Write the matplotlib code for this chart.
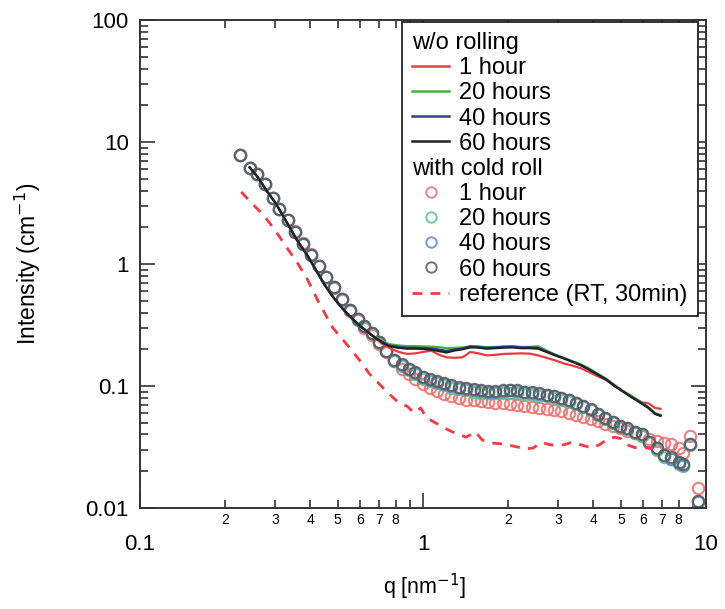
import matplotlib
matplotlib.use("Agg")
import matplotlib.pyplot as plt
from matplotlib.lines import Line2D
from matplotlib import ticker

plt.rcParams['font.family'] = ['Liberation Sans', 'DejaVu Sans']

# ---------------- data ----------------
# cold-rolled samples (circles)
q_circ = [0.226, 0.244, 0.259, 0.277, 0.295, 0.311, 0.333, 0.354, 0.378, 0.402,
          0.429, 0.453, 0.485, 0.517, 0.552, 0.587, 0.621, 0.66, 0.70, 0.74,
          0.79, 0.84, 0.89, 0.94, 1.0, 1.06, 1.12, 1.19, 1.26, 1.34,
          1.42, 1.51, 1.60, 1.70, 1.80, 1.91, 2.03, 2.15, 2.28, 2.42,
          2.57, 2.73, 2.90, 3.08, 3.27, 3.47, 3.68, 3.91, 4.15, 4.40,
          4.67, 4.96, 5.27, 5.60, 5.94, 6.30, 6.69, 7.10, 7.54, 8.0,
          8.3, 8.8, 9.38]

roll_1h = [7.9, 6.1, 5.5, 4.5, 3.45, 2.8, 2.3, 1.85, 1.49, 1.2,
           0.96, 0.78, 0.64, 0.51, 0.41, 0.35, 0.30, 0.26, 0.22, 0.19,
           0.16, 0.138, 0.125, 0.113, 0.103, 0.096, 0.091, 0.086, 0.082, 0.079,
           0.077, 0.076, 0.075, 0.074, 0.073, 0.0725, 0.071, 0.070, 0.069, 0.067,
           0.066, 0.065, 0.064, 0.062, 0.060, 0.058, 0.056, 0.054, 0.052, 0.049,
           0.047, 0.045, 0.043, 0.041, 0.039, 0.037, 0.0355, 0.034, 0.0335, 0.031,
           0.028, 0.039, 0.0145]

roll_20h = [7.9, 6.1, 5.5, 4.5, 3.45, 2.8, 2.28, 1.83, 1.47, 1.18,
            0.955, 0.78, 0.645, 0.52, 0.416, 0.355, 0.31, 0.27, 0.228, 0.193,
            0.16, 0.146, 0.134, 0.125, 0.115, 0.109, 0.105, 0.101, 0.097, 0.094,
            0.092, 0.090, 0.088, 0.087, 0.087, 0.087, 0.088, 0.087, 0.086, 0.085,
            0.083, 0.082, 0.080, 0.077, 0.074, 0.071, 0.067, 0.063, 0.058, 0.054,
            0.050, 0.046, 0.044, 0.041, 0.039, 0.034, 0.030, 0.026, 0.025, 0.023,
            0.022, 0.033, 0.0115]

roll_40h = [7.9, 6.1, 5.5, 4.5, 3.45, 2.8, 2.28, 1.83, 1.47, 1.18,
            0.955, 0.78, 0.645, 0.52, 0.416, 0.355, 0.31, 0.27, 0.23, 0.195,
            0.162, 0.149, 0.137, 0.128, 0.118, 0.112, 0.108, 0.104, 0.100, 0.097,
            0.095, 0.093, 0.091, 0.090, 0.090, 0.091, 0.092, 0.091, 0.089, 0.088,
            0.086, 0.084, 0.082, 0.079, 0.076, 0.072, 0.068, 0.064, 0.059, 0.055,
            0.051, 0.047, 0.045, 0.042, 0.040, 0.035, 0.031, 0.027, 0.025, 0.0235,
            0.0225, 0.0335, 0.0112]

roll_60h = [7.9, 6.1, 5.5, 4.5, 3.45, 2.8, 2.28, 1.83, 1.47, 1.18,
            0.955, 0.78, 0.645, 0.52, 0.416, 0.355, 0.31, 0.27, 0.23, 0.195,
            0.163, 0.150, 0.138, 0.129, 0.119, 0.113, 0.109, 0.105, 0.101, 0.098,
            0.096, 0.094, 0.092, 0.0915, 0.0915, 0.092, 0.093, 0.092, 0.090, 0.089,
            0.087, 0.085, 0.083, 0.080, 0.077, 0.073, 0.069, 0.065, 0.059, 0.055,
            0.051, 0.047, 0.045, 0.042, 0.040, 0.035, 0.031, 0.027, 0.026, 0.024,
            0.023, 0.0335, 0.0115]

# without rolling (lines)
q_line = [0.244, 0.26, 0.28, 0.303, 0.33, 0.36, 0.39, 0.42, 0.45, 0.48,
          0.52, 0.56, 0.60, 0.64, 0.68, 0.72, 0.76, 0.82, 0.88, 0.94,
          1.0, 1.07, 1.14, 1.21, 1.29, 1.38, 1.47, 1.57, 1.68, 1.80,
          1.93, 2.07, 2.22, 2.38, 2.55, 2.73, 2.93, 3.14, 3.36, 3.60,
          3.86, 4.14, 4.43, 4.75, 5.09, 5.45, 5.84, 6.26, 6.60, 6.90]

norm_1h = [6.2, 5.2, 4.0, 3.1, 2.2, 1.55, 1.18, 0.88, 0.67, 0.54,
           0.43, 0.36, 0.31, 0.275, 0.245, 0.22, 0.205, 0.19, 0.183, 0.185,
           0.19, 0.195, 0.18, 0.172, 0.170, 0.172, 0.19, 0.185, 0.178, 0.180,
           0.183, 0.184, 0.185, 0.184, 0.178, 0.170, 0.162, 0.153, 0.147, 0.140,
           0.130, 0.120, 0.112, 0.100, 0.090, 0.081, 0.074, 0.072, 0.066, 0.065]

norm_20h = [6.2, 5.2, 4.0, 3.1, 2.2, 1.55, 1.18, 0.88, 0.67, 0.54,
            0.43, 0.36, 0.31, 0.275, 0.25, 0.232, 0.22, 0.215, 0.212, 0.212,
            0.211, 0.21, 0.208, 0.204, 0.205, 0.207, 0.212, 0.211, 0.208, 0.209,
            0.211, 0.212, 0.209, 0.209, 0.212, 0.195, 0.181, 0.170, 0.160, 0.151,
            0.139, 0.126, 0.115, 0.102, 0.091, 0.083, 0.075, 0.067, 0.060, 0.058]

norm_40h = [6.2, 5.2, 4.0, 3.1, 2.2, 1.55, 1.18, 0.88, 0.67, 0.54,
            0.43, 0.36, 0.31, 0.275, 0.248, 0.228, 0.215, 0.209, 0.206, 0.206,
            0.205, 0.203, 0.199, 0.194, 0.199, 0.203, 0.211, 0.209, 0.205, 0.207,
            0.209, 0.210, 0.207, 0.207, 0.205, 0.192, 0.179, 0.169, 0.159, 0.149,
            0.137, 0.124, 0.113, 0.100, 0.090, 0.081, 0.074, 0.066, 0.059, 0.057]

norm_60h = [6.2, 5.2, 4.0, 3.1, 2.2, 1.55, 1.18, 0.88, 0.67, 0.54,
            0.43, 0.36, 0.31, 0.275, 0.247, 0.226, 0.212, 0.205, 0.202, 0.202,
            0.201, 0.198, 0.193, 0.188, 0.195, 0.200, 0.207, 0.206, 0.202, 0.204,
            0.206, 0.207, 0.204, 0.204, 0.202, 0.190, 0.178, 0.168, 0.158, 0.148,
            0.136, 0.124, 0.113, 0.100, 0.090, 0.081, 0.073, 0.066, 0.059, 0.057]

# reference (RT, 30 min)
q_ref = [0.228, 0.25, 0.272, 0.30, 0.329, 0.36, 0.387, 0.431, 0.48, 0.548,
         0.60, 0.646, 0.70, 0.759, 0.82, 0.88, 0.93, 0.98, 1.03, 1.07,
         1.14, 1.21, 1.30, 1.42, 1.53, 1.62, 1.75, 1.90, 2.10, 2.30,
         2.45, 2.62, 2.80, 2.96, 3.15, 3.35, 3.60, 3.95, 4.20, 4.50,
         4.75, 5.00, 5.25, 5.58, 5.90, 6.20, 6.50]
ref_I = [3.9, 3.1, 2.55, 1.9, 1.38, 1.02, 0.78, 0.47, 0.30, 0.208,
         0.16, 0.126, 0.104, 0.086, 0.073, 0.068, 0.060, 0.066, 0.055, 0.052,
         0.048, 0.0443, 0.041, 0.038, 0.042, 0.036, 0.034, 0.0335, 0.032, 0.0305,
         0.031, 0.0345, 0.033, 0.0325, 0.033, 0.0345, 0.033, 0.031, 0.033, 0.0368,
         0.038, 0.037, 0.033, 0.0313, 0.031, 0.0313, 0.031]

labels_hours = ["1 hour", "20 hours", "40 hours", "60 hours"]
line_colors = ["#ec3b3f", "#45b336", "#2b3f9e", "#222222"]
circ_colors = ["#ef6a6a", "#5cbf92", "#5e8bd6", "#5a5a5a"]

# ---------------- figure ----------------
fig = plt.figure(figsize=(7.25, 6.09), dpi=100)
ax = fig.add_axes([0.193, 0.166, 0.781, 0.801])

circ_series = [roll_1h, roll_20h, roll_40h, roll_60h]
for ys, c in zip(circ_series, circ_colors):
    ax.plot(q_circ, ys, linestyle='none', marker='o', markersize=8.2,
            markerfacecolor='none', markeredgecolor=c, markeredgewidth=1.5,
            alpha=0.85, zorder=2)

line_series = [norm_1h, norm_20h, norm_40h, norm_60h]
for ys, c in zip(line_series, line_colors):
    ax.plot(q_line, ys, color=c, linewidth=1.6, zorder=3)

ax.plot(q_ref, ref_I, color="#ef3b45", linewidth=2.0, linestyle=(0, (3.5, 3)),
        zorder=3)

ax.set_xscale('log')
ax.set_yscale('log')
ax.set_xlim(0.1, 10)
ax.set_ylim(0.01, 100)

# ticks
ax.xaxis.set_major_locator(ticker.FixedLocator([0.1, 1, 10]))
ax.xaxis.set_major_formatter(ticker.FixedFormatter(["0.1", "1", "10"]))
minor_x = [m * d for d in (0.1, 1) for m in range(2, 10)]
minor_x_lab = [str(m) if m < 9 else "" for d in (0.1, 1) for m in range(2, 10)]
ax.xaxis.set_minor_locator(ticker.FixedLocator(minor_x))
ax.xaxis.set_minor_formatter(ticker.FixedFormatter(minor_x_lab))

ax.yaxis.set_major_locator(ticker.FixedLocator([0.01, 0.1, 1, 10, 100]))
ax.yaxis.set_major_formatter(ticker.FixedFormatter(["0.01", "0.1", "1", "10", "100"]))
ax.yaxis.set_minor_locator(ticker.LogLocator(base=10, subs=range(2, 10)))
ax.yaxis.set_minor_formatter(ticker.NullFormatter())

ax.tick_params(which='both', direction='in', top=True, right=True,
               color='#333333', width=1.2)
ax.tick_params(which='major', length=11)
ax.tick_params(which='minor', length=6)
ax.tick_params(axis='x', which='major', labelsize=16, pad=19)
ax.tick_params(axis='x', which='minor', labelsize=10, pad=4)
ax.tick_params(axis='y', which='major', labelsize=16, pad=8)

for s in ax.spines.values():
    s.set_linewidth(1.4)
    s.set_color('#333333')

ax.set_xlabel("q [nm$^{-1}$]", fontsize=15.5)
ax.set_ylabel("Intensity (cm$^{-1}$)", fontsize=16.5)
ax.xaxis.set_label_coords(0.502, -0.13)
ax.yaxis.set_label_coords(-0.172, 0.5)

# legend
blank = Line2D([], [], linestyle='none')
handles = [blank]
labels = ["w/o rolling"]
for c, lab in zip(line_colors, labels_hours):
    handles.append(Line2D([], [], color=c, linewidth=1.8))
    labels.append(lab)
handles.append(blank)
labels.append("with cold roll")
for c, lab in zip(circ_colors, labels_hours):
    handles.append(Line2D([], [], linestyle='none', marker='o', markersize=7.5,
                          markerfacecolor='none', markeredgecolor=c,
                          markeredgewidth=1.4, alpha=0.85))
    labels.append(lab)
handles.append(Line2D([], [], color="#ef3b45", linewidth=2.0,
                      linestyle=(0, (3.5, 3))))
labels.append("reference (RT, 30min)")

leg = ax.legend(handles, labels, loc='upper right', bbox_to_anchor=(0.985, 0.996),
                borderaxespad=0, fontsize=17, frameon=True, fancybox=False,
                edgecolor='#222222', framealpha=1, handlelength=1.6,
                handletextpad=0.42, labelspacing=0.135, borderpad=0.42)
leg.get_frame().set_linewidth(1.3)
title_idx = {0, 5}
for col in leg._legend_handle_box.get_children():
    for i, hp in enumerate(col.get_children()):
        if i in title_idx:
            hp.get_children()[0].width = 0
            hp.sep = 0

fig.savefig("out.png", dpi=100)
